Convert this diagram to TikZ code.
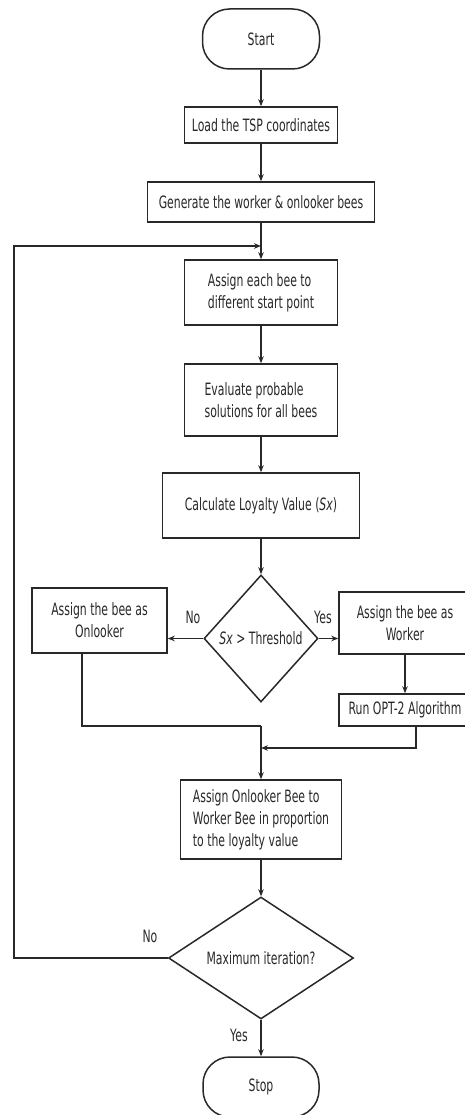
\documentclass[tikz,border=0pt]{standalone}
\usepackage{fontspec}
\setmainfont{DejaVu Sans}[FakeStretch=0.64]
\usetikzlibrary{shapes.geometric,arrows.meta}
\definecolor{ink}{RGB}{40,40,40}
\begin{document}
\begin{tikzpicture}[x=1pt,y=-1pt,
  every node/.style={text=ink},
  txt/.style={font=\fontsize{17}{22}\selectfont},
  box/.style={draw=ink, line width=1.5pt, rectangle, inner sep=0pt, txt},
  term/.style={box, rounded corners=27pt},
  dec/.style={draw=ink, line width=1.5pt, diamond, inner sep=0pt, aspect=1, txt},
  lbl/.style={txt, inner sep=0pt},
  line/.style={draw=ink, line width=1.5pt},
  arr/.style={line, -{Stealth[length=7pt,width=5.5pt]}}]
\useasboundingbox (0,0) rectangle (465,1115);
\clip (0,0) rectangle (465,1115);

\node[term, minimum width=117pt, minimum height=60pt] (start) at (261,39) {Start};
\node[box, minimum width=153pt, minimum height=36pt] (load) at (261,125) {Load the TSP coordinates};
\node[box, minimum width=227pt, minimum height=40pt] (gen) at (261,202) {Generate the worker \& onlooker bees};
\node[box, minimum width=153pt, minimum height=65pt, align=left] (assign) at (261,292.5) {Assign each bee to\\different start point};
\node[box, minimum width=153pt, minimum height=72pt, align=left] (eval) at (261,400) {Evaluate probable\\solutions for all bees};
\node[box, minimum width=197pt, minimum height=65pt] (calc) at (261,505.5) {Calculate Loyalty Value (\textit{Sx})};
\node[dec, minimum width=114pt, minimum height=127pt] (d1) at (261,638.5) {\textit{Sx} > Threshold};
\node[box, minimum width=135pt, minimum height=65pt, align=center] (onl) at (99.5,620.5) {Assign the bee as\\Onlooker};
\node[box, minimum width=132pt, minimum height=62pt, align=center] (work) at (405,623) {Assign the bee as\\Worker};
\node[box, minimum width=132pt, minimum height=32pt] (run) at (405,710) {Run OPT-2 Algorithm};
\node[box, minimum width=161pt, minimum height=79pt, align=left] (aob) at (261,819.5) {Assign Onlooker Bee to\\Worker Bee in proportion\\to the loyalty value};
\node[dec, minimum width=185pt, minimum height=120pt] (d2) at (261,958) {Maximum iteration?};
\node[term, minimum width=116pt, minimum height=60pt] (stop) at (261,1087) {Stop};

\node[lbl] (no1) at (193,617) {No};
\node[lbl] (yes1) at (323,617) {Yes};
\node[lbl] (no2) at (150,936) {No};
\node[lbl] (yes2) at (239,1035) {Yes};

\coordinate (j1) at (261,246);
\coordinate (fb) at (14,600);
\coordinate (j2) at (261,748);
\coordinate (j3) at (261,726);

\draw[arr] (start) -- (load);
\draw[arr] (load) -- (gen);
\draw[arr] (gen) -- (assign);
\draw[arr] (assign) -- (eval);
\draw[arr] (eval) -- (calc);
\draw[arr] (calc) -- (d1);
\draw[arr] (d1.west) -- (d1.west -| onl.east);
\draw[arr] (d1.east) -- (d1.east -| work.west);
\draw[arr] (work) -- (run);
\draw[arr] ([xshift=11pt]run.south) |- (j2);
\draw[line] ([xshift=-17.5pt]onl.south) |- (j3);
\draw[arr] (j3) -- (aob);
\draw[arr] (aob) -- (d2);
\draw[arr] (d2) -- (stop);
\draw[arr] (d2.west) -| (fb) |- (j1);
\end{tikzpicture}
\end{document}
